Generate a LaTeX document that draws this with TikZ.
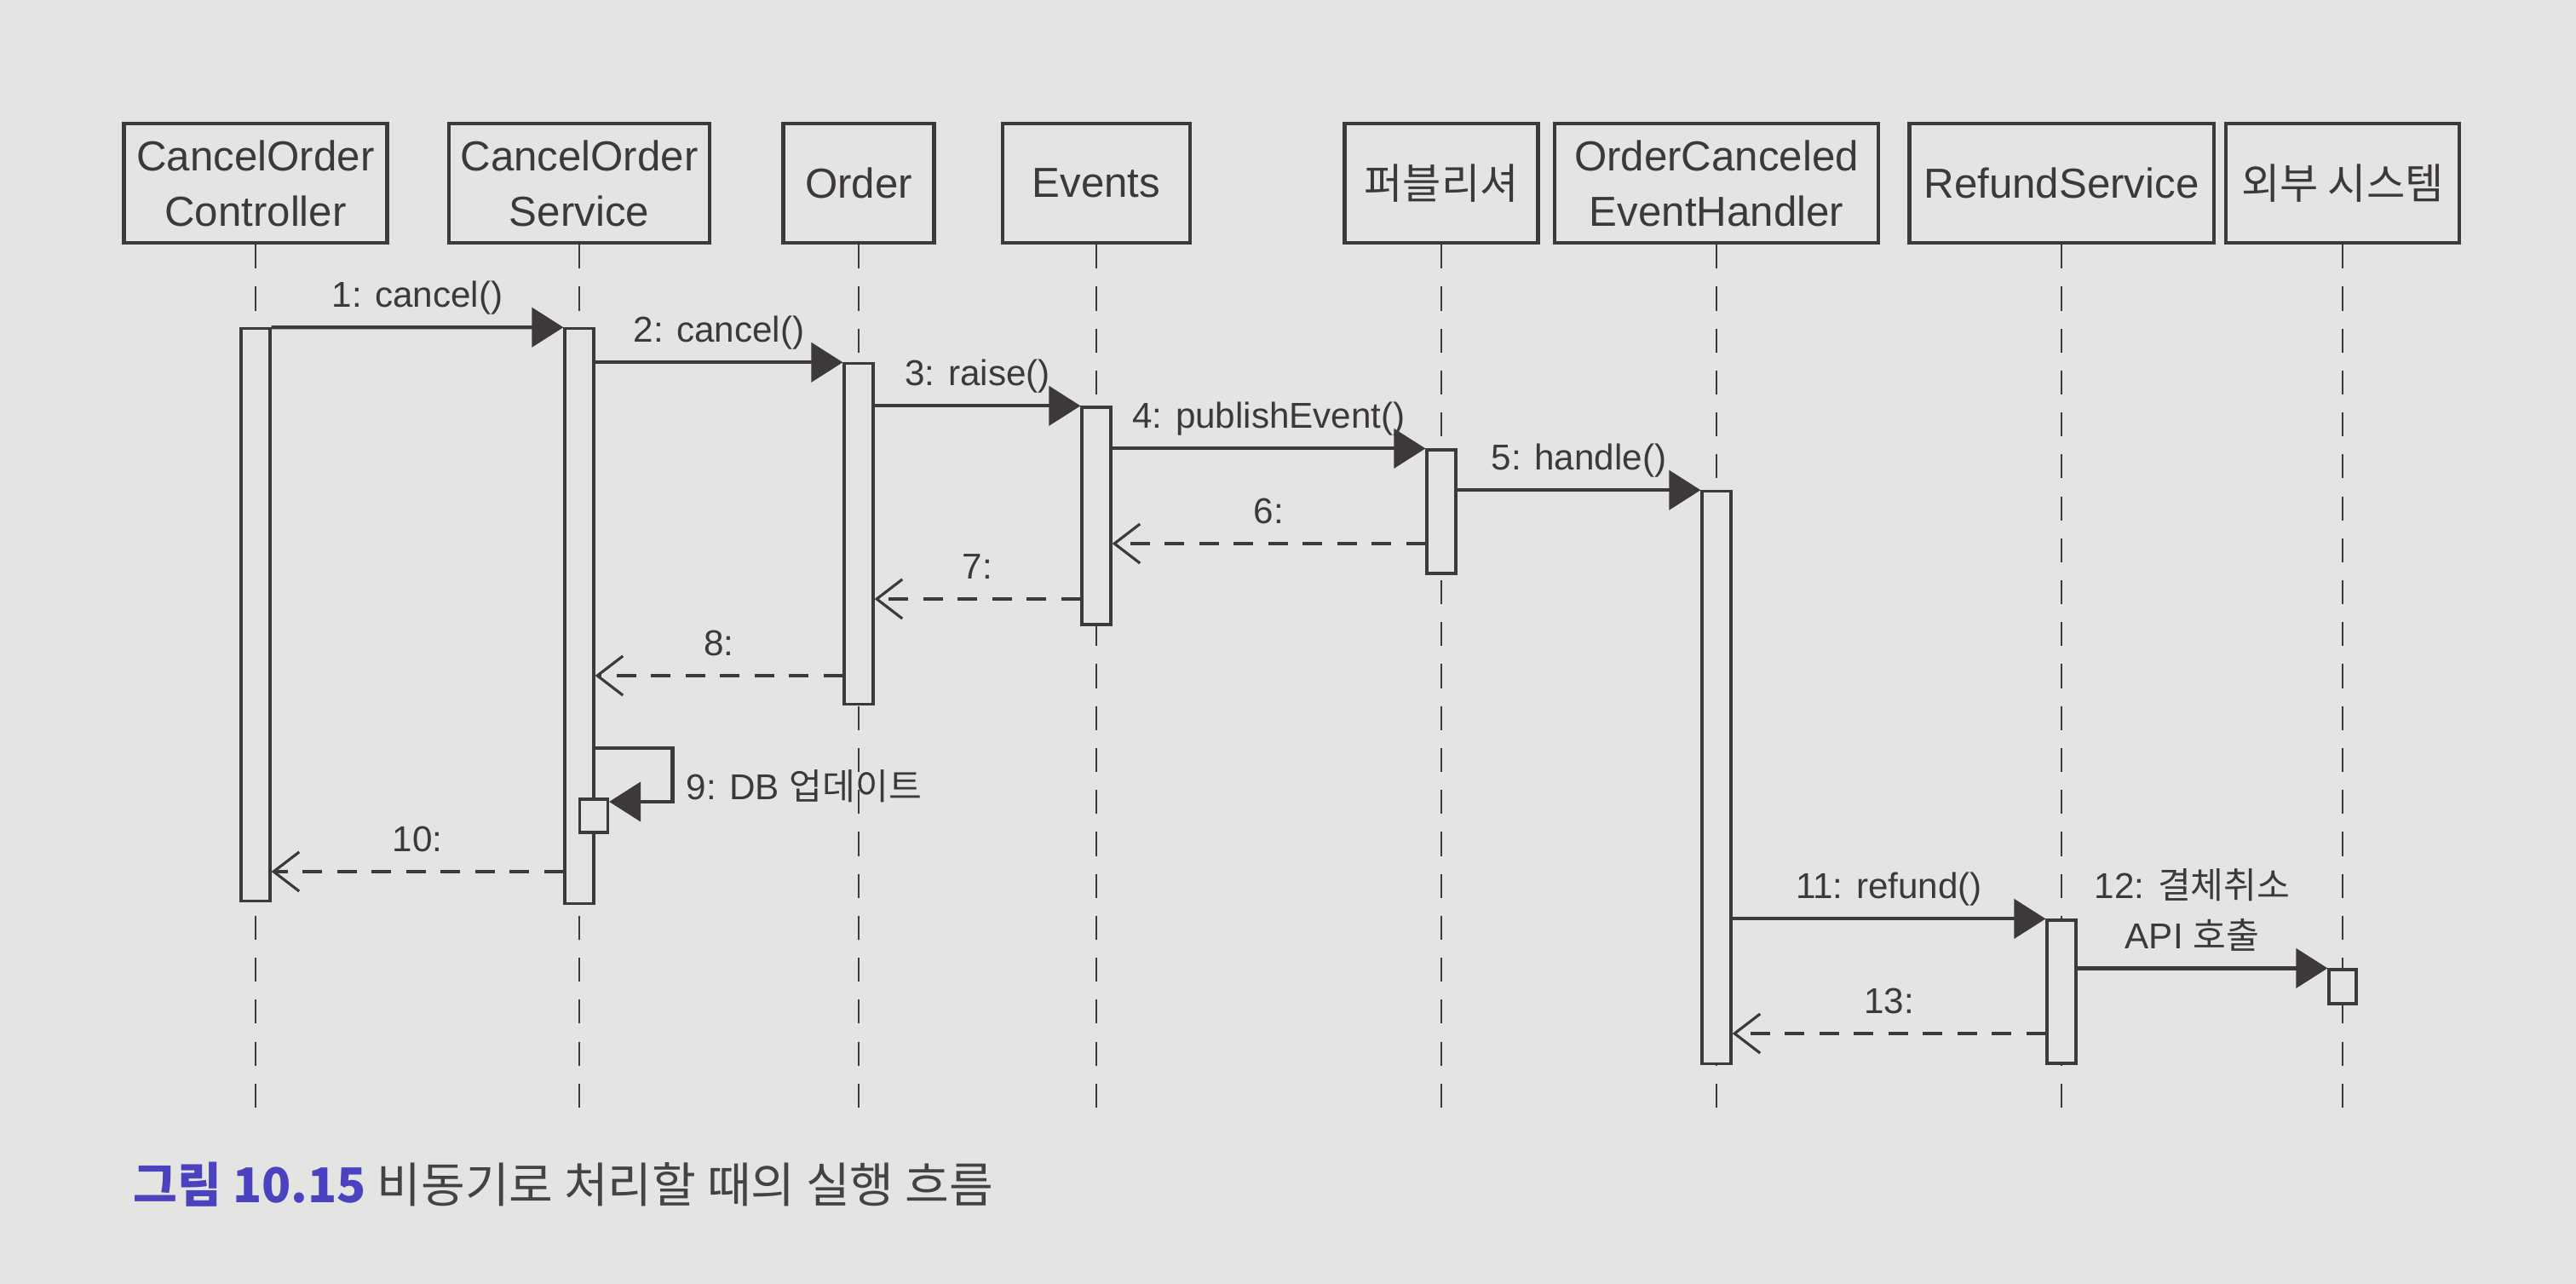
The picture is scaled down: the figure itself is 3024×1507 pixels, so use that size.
\documentclass[tikz,border=0pt]{standalone}
\usepackage{fontspec}
\setmainfont{Liberation Sans}
\newfontfamily\kr{Noto Sans CJK KR}
\usetikzlibrary{arrows.meta}
\definecolor{paper}{HTML}{E4E4E2}
\definecolor{ink}{HTML}{3D393B}
\definecolor{capblue}{HTML}{4A42BF}
\definecolor{capgray}{HTML}{464244}
\newcommand{\objfont}{\fontsize{14}{18.5}\selectfont}
\newcommand{\msgfont}{\fontsize{12}{16.8}\selectfont}

\begin{document}
\begin{tikzpicture}[x=0.01cm, y=-0.01cm,
  obj/.style={draw=ink, line width=1.2pt, fill=paper, text=ink, minimum height=1.4cm,
    inner sep=0pt, align=center, font=\objfont},
  act/.style={draw=ink, line width=0.9pt, fill=paper, minimum width=0.34cm, inner sep=0pt},
  life/.style={ink, line width=0.7pt, dash pattern=on 8pt off 6pt},
  call/.style={ink, line width=1.2pt, -{Triangle[length=0.37cm, width=0.46cm]}},
  ret/.style={ink, line width=1.1pt, dash pattern=on 6.5pt off 5pt,
    -{Straight Barb[length=0.3cm, width=0.46cm, line width=0.9pt]}},
  msg/.style={text=ink, font=\msgfont, inner sep=0pt, anchor=base, yshift=6.7pt}]

  % page
  \fill[paper] (0,0) rectangle (3024,1507);
  \useasboundingbox (0,0) rectangle (3024,1507);

  % objects
  \node[obj, minimum width=3.09cm] (ctrl) at (300,215) {CancelOrder\\Controller};
  \node[obj, minimum width=3.06cm] (svc) at (680,215) {CancelOrder\\Service};
  \node[obj, minimum width=1.77cm] (order) at (1008,215) {Order};
  \node[obj, minimum width=2.20cm] (events) at (1287,215) {Events};
  \node[obj, minimum width=2.27cm, font=\kr\objfont] (pub) at (1692,215) {퍼블리셔};
  \node[obj, minimum width=3.80cm] (handler) at (2015,215) {OrderCanceled\\EventHandler};
  \node[obj, minimum width=3.57cm] (refund) at (2420,215) {RefundService};
  \node[obj, minimum width=2.74cm, font=\kr\objfont] (ext) at (2750,215) {외부 시스템};

  % lifelines
  \coordinate (bot) at (0,1310);
  \draw[life] (ctrl) -- (ctrl |- bot);
  \draw[life] (svc) -- (svc |- bot);
  \draw[life] (order) -- (order |- bot);
  \draw[life] (events) -- (events |- bot);
  \draw[life] (pub) -- (pub |- bot);
  \draw[life] (handler) -- (handler |- bot);
  \draw[life] (refund) -- (refund |- bot);
  \draw[life] (ext) -- (ext |- bot);

  % activations
  \node[act, minimum height=6.71cm] (b1) at (300,721.5) {};
  \node[act, minimum height=6.74cm] (b2) at (680,723) {};
  \node[act, minimum height=3.99cm] (b3) at (1008,626.5) {};
  \node[act, minimum height=2.55cm] (b4) at (1287,605.5) {};
  \node[act, minimum height=1.45cm] (b5) at (1692,600.5) {};
  \node[act, minimum height=6.71cm] (b6) at (2015,912.5) {};
  \node[act, minimum height=1.68cm] (b7) at (2420,1164) {};
  \node[act, minimum height=0.40cm, minimum width=0.32cm] (b8) at (2750,1158) {};
  \node[act, minimum height=0.39cm, minimum width=0.33cm] (s9) at (697,957.5) {};

  % message rows
  \coordinate (y6) at (0,638);
  \coordinate (y7) at (0,703);
  \coordinate (y8) at (0,793);
  \coordinate (y9) at (0,878);
  \coordinate (y9b) at (0,941);
  \coordinate (y10) at (0,1023);
  \coordinate (y13) at (0,1213);

  % calls
  \draw[call] (b1.north east) -- (b2.north west) node[msg, midway] (t1) {1: cancel()};
  \draw[call] (b2.east |- b3.north) -- (b3.north west) node[msg, midway] (t2) {2: cancel()};
  \draw[call] (b3.east |- b4.north) -- (b4.north west) node[msg, midway] (t3) {3: raise()};
  \draw[call] (b4.east |- b5.north) -- (b5.north west) node[msg, midway] (t4) {4: publishEvent()};
  \draw[call] (b5.east |- b6.north) -- (b6.north west) node[msg, midway] (t5) {5: handle()};
  \draw[call] (b2.east |- y9) -- ++(91,0) |- (s9.east |- y9b);
  \node[text=ink, font=\msgfont, inner sep=0pt, anchor=west] (t9) at (805,923) {9: DB {\kr 업데이트}};
  \draw[call] (b6.east |- b7.north) -- (b7.north west) node[msg, midway] (t11) {11: refund()};
  \draw[call] (b7.east |- b8.north) -- (b8.north west)
    node[msg, midway, anchor=south, yshift=-1.5pt, align=center, xshift=-0.12cm] (t12) {12: {\kr 결체취소}\\API {\kr 호출}};

  % returns
  \draw[ret] (b5.west |- y6) -- (b4.east |- y6) node[msg, midway] (t6) {6:};
  \draw[ret] (b4.west |- y7) -- (b3.east |- y7) node[msg, midway] (t7) {7:};
  \draw[ret] (b3.west |- y8) -- (b2.east |- y8) node[msg, midway] (t8) {8:};
  \draw[ret] (b2.west |- y10) -- (b1.east |- y10) node[msg, midway] (t10) {10:};
  \draw[ret] (b7.west |- y13) -- (b6.east |- y13) node[msg, midway] (t13) {13:};

  % caption
  \node[anchor=west, inner sep=0pt, font=\kr\fontsize{16}{19}\selectfont] (cap) at (156,1390)
    {\textcolor{capblue}{\bfseries 그림 10.15} \textcolor{capgray}{비동기로 처리할 때의 실행 흐름}};
\end{tikzpicture}
\end{document}
